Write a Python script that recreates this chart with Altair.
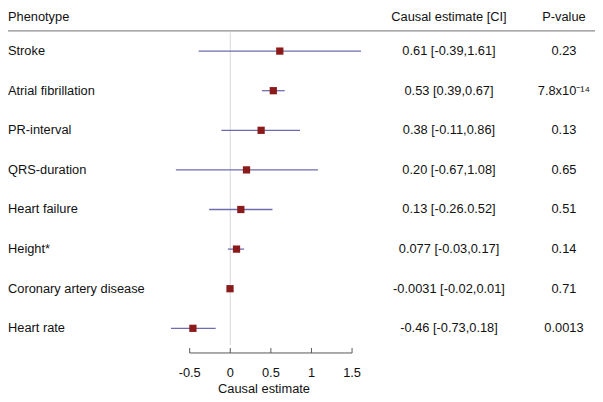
import altair as alt
import pandas as pd

phenotypes = ["Stroke", "Atrial fibrillation", "PR-interval", "QRS-duration",
              "Heart failure", "Height*", "Coronary artery disease", "Heart rate"]
estimate = [0.61, 0.53, 0.38, 0.20, 0.13, 0.077, -0.0031, -0.46]
ci_low = [-0.39, 0.39, -0.11, -0.67, -0.26, -0.03, -0.02, -0.73]
ci_high = [1.61, 0.67, 0.86, 1.08, 0.52, 0.17, 0.01, -0.18]
ci_text = ["0.61 [-0.39,1.61]", "0.53 [0.39,0.67]", "0.38 [-0.11,0.86]",
           "0.20 [-0.67,1.08]", "0.13 [-0.26.0.52]", "0.077 [-0.03,0.17]",
           "-0.0031 [-0.02,0.01]", "-0.46 [-0.73,0.18]"]
p_text = ["0.23", "7.8x10\u207b\u00b9\u2074", "0.13", "0.65", "0.51", "0.14", "0.71", "0.0013"]
tick_values = [-0.5, 0, 0.5, 1, 1.5]
tick_labels = ["-0.5", "0", "0.5", "1", "1.5"]
headers = ["Phenotype", "Causal estimate [CI]", "P-value"]
x_title = "Causal estimate"

df = pd.DataFrame({"pheno": phenotypes, "est": estimate, "lo": ci_low,
                   "hi": ci_high, "ci": ci_text, "p": p_text})
ticks = pd.DataFrame({"v": tick_values, "lab": tick_labels})

W, H = 595, 394
FONT = "Liberation Sans"
FS = 13
TXT = "#111111"
CI_X = 447
P_X = 563.5

xs = alt.Scale(domain=[-225.3 / 82.3, (W - 225.3) / 82.3], nice=False, zero=False)
ys = alt.Scale(type="point", domain=phenotypes, range=[41, 322], padding=0)

X = lambda f: alt.X(f, type="quantitative", scale=xs, axis=None)
Y = alt.Y("pheno:N", scale=ys, axis=None)

base = alt.Chart(df)

zero_line = alt.Chart(ticks).transform_filter("datum.v == 0").mark_rule(
    color="#d6d6dc", strokeWidth=1).encode(x=X("v"), y=alt.value(22), y2=alt.value(339))

ci_lines = base.mark_rule(color="#6c6cae", strokeWidth=1.3).encode(
    x=X("lo"), x2="hi", y=Y)

points = base.mark_square(color="#8b1a1a", size=54, opacity=1).encode(x=X("est"), y=Y)

labels = base.mark_text(align="left", baseline="middle", font=FONT, fontSize=FS,
                        color=TXT).encode(x=alt.value(0), y=Y, text="pheno:N")
ci_col = base.mark_text(align="center", baseline="middle", font=FONT, fontSize=FS,
                        color=TXT).encode(x=alt.value(CI_X), y=Y, text="ci:N")
p_col = base.mark_text(align="center", baseline="middle", font=FONT, fontSize=FS,
                       color=TXT).encode(x=alt.value(P_X), y=Y, text="p:N")

hdr_df = pd.DataFrame({"h": headers})
h1 = alt.Chart(hdr_df).transform_filter(alt.datum.h == headers[0]).mark_text(
    align="left", baseline="alphabetic", font=FONT, fontSize=FS, color=TXT).encode(
    x=alt.value(0), y=alt.value(10), text="h:N")
h2 = alt.Chart(hdr_df).transform_filter(alt.datum.h == headers[1]).mark_text(
    align="center", baseline="alphabetic", font=FONT, fontSize=FS, color=TXT).encode(
    x=alt.value(CI_X), y=alt.value(10), text="h:N")
h3 = alt.Chart(hdr_df).transform_filter(alt.datum.h == headers[2]).mark_text(
    align="center", baseline="alphabetic", font=FONT, fontSize=FS, color=TXT).encode(
    x=alt.value(P_X), y=alt.value(10), text="h:N")

hdr_line = alt.Chart(hdr_df).transform_filter(alt.datum.h == headers[0]).mark_rule(
    color="#8c8c8c", strokeWidth=1.5).encode(
    x=alt.value(0), x2=alt.value(W), y=alt.value(20.5))

axis_line = alt.Chart(ticks).transform_aggregate(
    mn="min(v)", mx="max(v)").mark_rule(color="#555555", strokeWidth=1).encode(
    x=X("mn"), x2="mx:Q", y=alt.value(347))
axis_ticks = alt.Chart(ticks).mark_rule(color="#555555", strokeWidth=1).encode(
    x=X("v"), y=alt.value(342), y2=alt.value(347))
axis_labels = alt.Chart(ticks).mark_text(align="center", baseline="middle", font=FONT,
                                          fontSize=FS, color=TXT).encode(
    x=X("v"), y=alt.value(367), text="lab:N")
axis_title = alt.Chart(pd.DataFrame({"t": [x_title]})).mark_text(
    align="center", baseline="middle", font=FONT, fontSize=FS, color=TXT).encode(
    x=alt.value(259.5), y=alt.value(384), text="t:N")

chart = alt.layer(
    zero_line, hdr_line, ci_lines, points, labels, ci_col, p_col, h1, h2, h3,
    axis_line, axis_ticks, axis_labels, axis_title
).properties(
    width=W, height=H, padding=0, autosize=alt.AutoSizeParams(type="none"),
    background="white"
).configure_view(stroke=None)

chart.save("out.html", embed_options={"renderer": "svg", "actions": False})
